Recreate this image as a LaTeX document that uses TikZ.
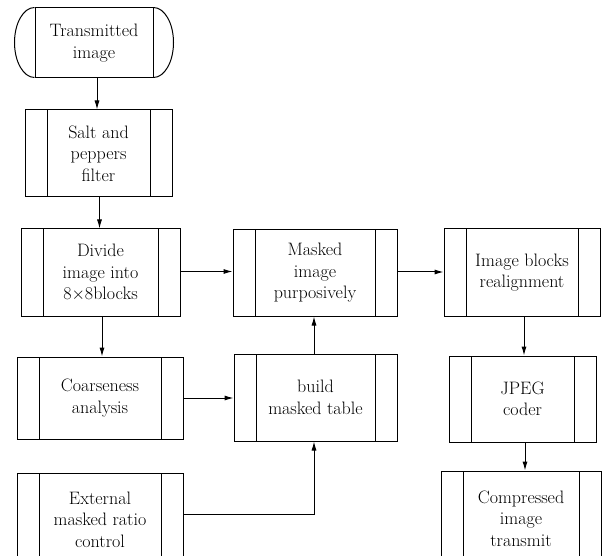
\documentclass[tikz,border=0pt]{standalone}
\usetikzlibrary{arrows.meta}

\tikzset{
  proc/.style={draw, rectangle, align=center, inner sep=0pt,
    font=\rmfamily\fontsize{18}{21.5}\selectfont,
    path picture={
      \draw ([xshift=22pt]path picture bounding box.north west) -- ([xshift=22pt]path picture bounding box.south west);
      \draw ([xshift=-22pt]path picture bounding box.north east) -- ([xshift=-22pt]path picture bounding box.south east);
    }},
  term/.style={draw, rectangle, align=center, inner sep=0pt,
    font=\rmfamily\fontsize{18}{21.5}\selectfont},
  arr/.style={-{Latex[length=9pt,width=5pt]}},
}

\begin{document}
\begin{tikzpicture}[x=1pt, y=1pt, line width=1pt]
  \fill[white] (0,0) rectangle (608,-556);
  \useasboundingbox (0,0) rectangle (608,-556);
  \clip (0,0) rectangle (608,-556);

  % start terminal: straight middle part with elliptic ends
  \node[term, minimum width=118pt, minimum height=70pt] (trans) at (94,-43) {Transmitted\\image};
  \draw (trans.north west) arc[start angle=90, end angle=270, x radius=20pt, y radius=35pt];
  \draw (trans.north east) arc[start angle=90, end angle=-90, x radius=20pt, y radius=35pt];

  % left column
  \node[proc, minimum width=147pt, minimum height=87pt] (salt) at (98.5,-153.5) {Salt and\\peppers\\filter};
  \node[proc, minimum width=159pt, minimum height=87pt] (divide) at (100.5,-272.5) {Divide\\image into\\8$\times$8blocks};
  \node[proc, minimum width=166pt, minimum height=82pt] (coarse) at (100,-398) {Coarseness\\analysis};
  \node[proc, minimum width=166pt, minimum height=93pt] (ext) at (100,-519.5) {External\\masked ratio\\control};

  % middle column
  \node[proc, minimum width=164pt, minimum height=86pt] (masked) at (315,-273) {Masked\\image\\purposively};
  \node[proc, minimum width=163pt, minimum height=87pt] (build) at (315.5,-397.5) {build\\ masked table};

  % right column
  \node[proc, minimum width=156pt, minimum height=87pt] (blocks) at (522,-272.5) {Image blocks\\realignment};
  \node[proc, minimum width=147pt, minimum height=86pt] (jpeg) at (522.5,-399) {JPEG\\coder};
  \node[proc, minimum width=160pt, minimum height=95pt] (comp) at (521,-518.5) {Compressed\\image\\transmit};

  % connectors
  \draw[arr] ([xshift=3pt]trans.south) -- ([xshift=3pt]trans.south |- salt.north);
  \draw[arr] ([xshift=1pt]salt.south) -- ([xshift=1pt]salt.south |- divide.north);
  \draw[arr] ([xshift=1.5pt]divide.south) -- ([xshift=1.5pt]divide.south |- coarse.north);
  \draw[arr] ([yshift=1pt]divide.east) -- ([yshift=1pt]divide.east -| masked.west);
  \draw[arr] (coarse.east) -- (coarse.east -| build.west);
  \draw[arr] ([yshift=5pt]ext.east) -| ([xshift=-1.5pt]build.south);
  \draw[arr] ([xshift=-1.5pt]build.north) -- ([xshift=-1.5pt]build.north |- masked.south);
  \draw[arr] ([yshift=1pt]masked.east) -- ([yshift=1pt]masked.east -| blocks.west);
  \draw[arr] ([xshift=2pt]blocks.south) -- ([xshift=2pt]blocks.south |- jpeg.north);
  \draw[arr] ([xshift=2.5pt]jpeg.south) -- ([xshift=2.5pt]jpeg.south |- comp.north);
\end{tikzpicture}
\end{document}
